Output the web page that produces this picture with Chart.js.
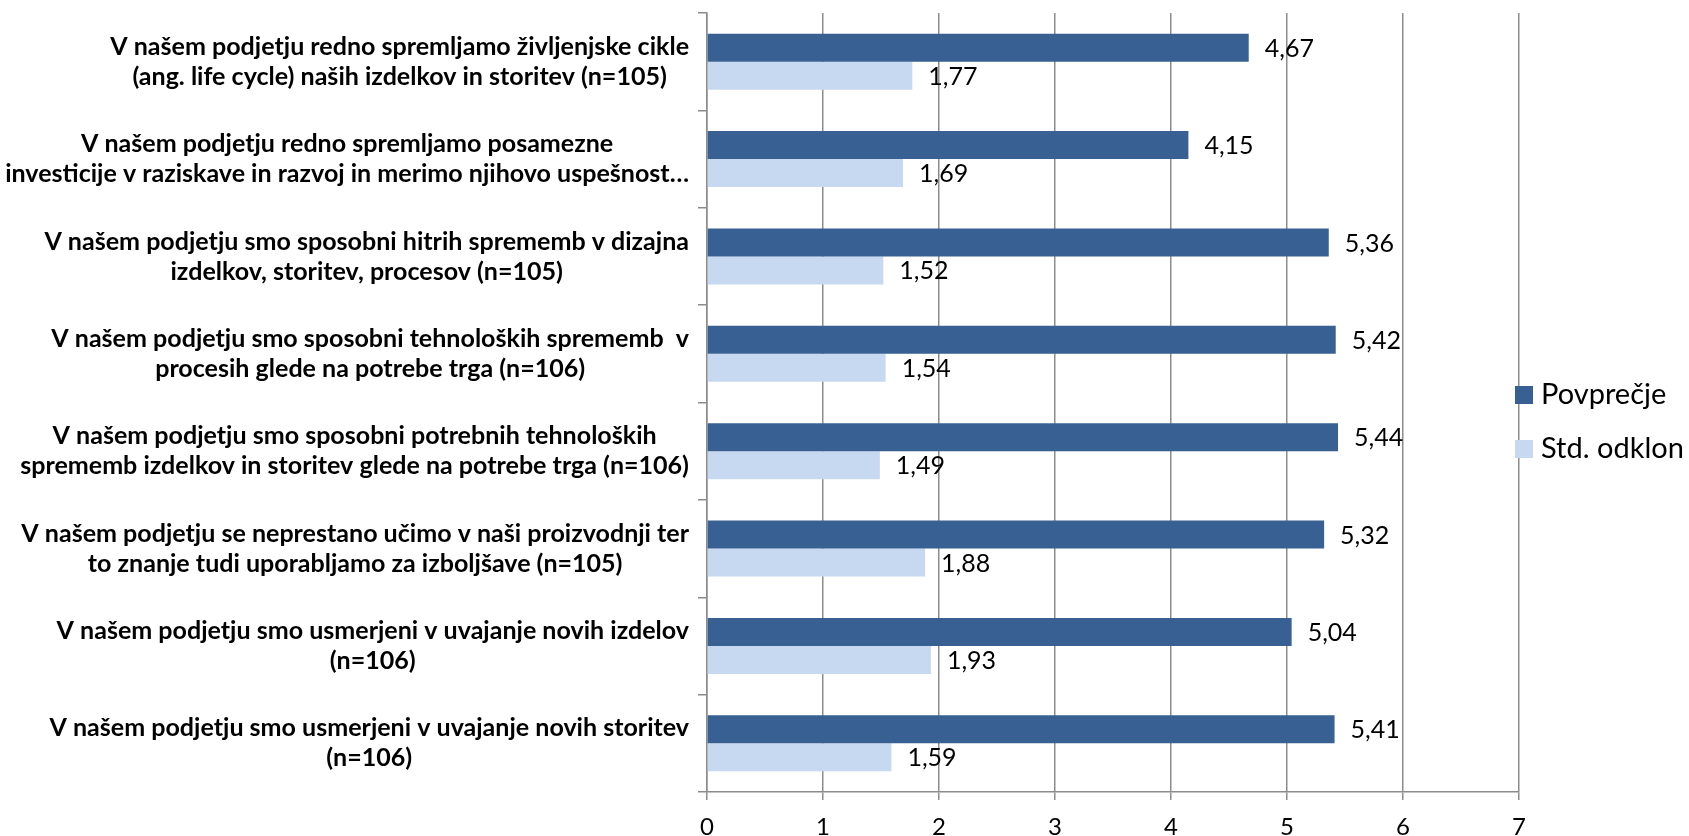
<!DOCTYPE html>
<html>
<head>
<meta charset="utf-8">
<script src="https://cdn.jsdelivr.net/npm/chart.js@4"></script>
<style>
  html, body { margin: 0; padding: 0; background: #fff; }
  #wrap { width: 1689px; height: 836px; position: relative; }
</style>
</head>
<body>
<div id="wrap"><canvas id="barChart"></canvas></div>
<script>
const categories = [
    ['V našem podjetju redno spremljamo življenjske cikle', '(ang. life cycle) naših izdelkov in storitev (n=105)'],
    ['V našem podjetju redno spremljamo posamezne', 'investicije v raziskave in razvoj in merimo njihovo uspešnost…'],
    ['V našem podjetju smo sposobni hitrih sprememb v dizajna', 'izdelkov, storitev, procesov (n=105)'],
    ['V našem podjetju smo sposobni tehnoloških sprememb  v', 'procesih glede na potrebe trga (n=106)'],
    ['V našem podjetju smo sposobni potrebnih tehnoloških', 'sprememb izdelkov in storitev glede na potrebe trga (n=106)'],
    ['V našem podjetju se neprestano učimo v naši proizvodnji ter', 'to znanje tudi uporabljamo za izboljšave (n=105)'],
    ['V našem podjetju smo usmerjeni v uvajanje novih izdelov', '(n=106)'],
    ['V našem podjetju smo usmerjeni v uvajanje novih storitev', '(n=106)']
];
const seriesNames = ['Povprečje', 'Std. odklon'];
const meanValues = [4.67, 4.15, 5.36, 5.42, 5.44, 5.32, 5.04, 5.41];
const stdValues = [1.77, 1.69, 1.52, 1.54, 1.49, 1.88, 1.93, 1.59];
const xTicks = [0, 1, 2, 3, 4, 5, 6, 7];

const colors = ['#386092', '#c6d9f1'];
const gridColor = '#8c8c8c';
const FONT = 'Lato, "Open Sans", sans-serif';

// category labels: centered lines, block right-aligned to the axis
const categoryLabels = {
    id: 'categoryLabels',
    afterDraw(chart) {
        const ctx = chart.ctx;
        const yScale = chart.scales.y;
        const right = 689;
        ctx.save();
        ctx.font = 'bold 100px ' + FONT;
        let widest = 0;
        categories.forEach(lines => lines.forEach(l => { widest = Math.max(widest, ctx.measureText(l).width); }));
        const size = Math.min(26, 100 * 684 / widest);
        ctx.font = 'bold ' + size.toFixed(2) + 'px ' + FONT;
        ctx.fillStyle = '#000';
        ctx.textAlign = 'center';
        ctx.textBaseline = 'middle';
        categories.forEach((lines, i) => {
            const y = yScale.getPixelForValue(i);
            const maxW = Math.max(...lines.map(l => ctx.measureText(l).width));
            const cx = right - maxW / 2;
            lines.forEach((l, k) => {
                ctx.fillText(l, cx, y + (k - (lines.length - 1) / 2) * 30);
            });
        });
        ctx.restore();
    }
};

// value labels right of each bar
const valueLabels = {
    id: 'valueLabels',
    afterDatasetsDraw(chart) {
        const ctx = chart.ctx;
        ctx.save();
        ctx.font = '25px ' + FONT;
        ctx.fillStyle = '#000';
        ctx.textAlign = 'left';
        ctx.textBaseline = 'middle';
        chart.data.datasets.forEach((ds, di) => {
            chart.getDatasetMeta(di).data.forEach((bar, i) => {
                const txt = ds.data[i].toFixed(2).replace('.', ',');
                ctx.fillText(txt, bar.x + 16, bar.y + 1);
            });
        });
        ctx.restore();
    }
};

// legend on the right, over the last grid line
const sideLegend = {
    id: 'sideLegend',
    afterDraw(chart) {
        const ctx = chart.ctx;
        ctx.save();
        ctx.font = '29px ' + FONT;
        ctx.textAlign = 'left';
        ctx.textBaseline = 'middle';
        chart.data.datasets.forEach((ds, di) => {
            const y = 386 + di * 54;
            ctx.fillStyle = ds.backgroundColor;
            ctx.fillRect(1515, y, 18, 18);
            ctx.fillStyle = '#000';
            ctx.fillText(ds.label, 1541, y + 9);
        });
        ctx.restore();
    }
};

const canvas = document.getElementById('barChart');
const ctx = canvas.getContext('2d');
const chart = new Chart(ctx, {
    type: 'bar',
    data: {
        labels: categories.map(c => c.join(' ')),
        datasets: [
            { label: seriesNames[0], data: meanValues, backgroundColor: colors[0] },
            { label: seriesNames[1], data: stdValues, backgroundColor: colors[1] }
        ]
    },
    options: {
        indexAxis: 'y',
        responsive: true,
        maintainAspectRatio: false,
        animation: false,
        layout: { padding: { top: 13, right: 170, left: 0, bottom: 0 } },
        datasets: {
            bar: { categoryPercentage: 0.575, barPercentage: 1.0 }
        },
        scales: {
            x: {
                type: 'linear',
                min: 0,
                max: 7,
                afterBuildTicks: scale => { scale.ticks = xTicks.map(v => ({ value: v })); },
                afterFit: scale => { scale.height = 44; },
                grid: { color: gridColor, lineWidth: 1.5, tickLength: 8, drawOnChartArea: true },
                border: { display: true, color: gridColor, width: 1.5 },
                ticks: { color: '#000', font: { family: FONT, size: 24 }, padding: 13 }
            },
            y: {
                type: 'category',
                afterFit: scale => { scale.width = 707; },
                grid: { color: gridColor, lineWidth: 1.5, tickLength: 9, drawOnChartArea: false, offset: true },
                border: { display: true, color: gridColor, width: 1.5 },
                ticks: { display: false }
            }
        },
        plugins: {
            legend: { display: false },
            tooltip: { enabled: false }
        }
    },
    plugins: [categoryLabels, valueLabels, sideLegend]
});
</script>
</body>
</html>
